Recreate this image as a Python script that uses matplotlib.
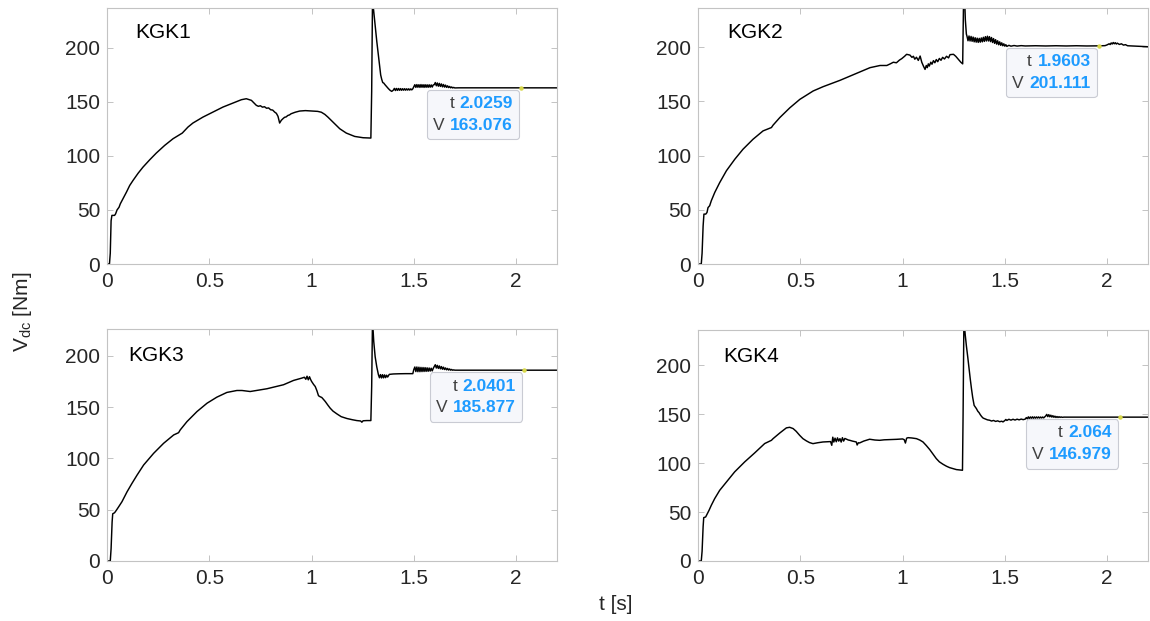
import matplotlib
matplotlib.use("Agg")
import matplotlib.pyplot as plt
from matplotlib.offsetbox import TextArea, HPacker, VPacker, AnnotationBbox

plt.rcParams['font.family'] = ['Liberation Sans', 'DejaVu Sans']
plt.rcParams['mathtext.fontset'] = 'custom'
plt.rcParams['mathtext.rm'] = 'Liberation Sans'
plt.rcParams['mathtext.it'] = 'Liberation Sans:italic'

# ---------------- data ----------------
x_ticks = [0, 0.5, 1, 1.5, 2]
x_tick_labels = ['0', '0.5', '1', '1.5', '2']
y_ticks = [0, 50, 100, 150, 200]

t_kgk1 = [0, 0.012, 0.016, 0.020, 0.024, 0.037, 0.042, 0.049, 0.059, 0.065, 0.078, 0.095,
          0.111, 0.127, 0.152, 0.176, 0.209, 0.241, 0.282, 0.323, 0.355, 0.368, 0.396, 0.42,
          0.469, 0.518, 0.567, 0.616, 0.657, 0.681, 0.706, 0.73, 0.74, 0.75, 0.76, 0.77, 0.78,
          0.79, 0.80, 0.81, 0.82, 0.828, 0.836, 0.844, 0.852, 0.86, 0.868, 0.876, 0.884, 0.892,
          0.9, 0.92, 0.942, 0.97, 1.007, 1.03, 1.048, 1.065, 1.08, 1.105, 1.138, 1.17, 1.211,
          1.252, 1.29, 1.294, 1.298, 1.305, 1.311, 1.319, 1.327, 1.333, 1.338, 1.343, 1.348,
          1.353, 1.359, 1.366, 1.376, 1.384, 1.392,
          1.400, 1.405, 1.410, 1.415, 1.420, 1.425, 1.430, 1.435, 1.440, 1.445, 1.450, 1.455,
          1.460, 1.465, 1.470, 1.475, 1.480, 1.485, 1.490, 1.495,
          1.500, 1.505, 1.510, 1.515, 1.520, 1.525, 1.530, 1.535, 1.540, 1.545, 1.550, 1.555,
          1.560, 1.565, 1.570, 1.575, 1.580, 1.585, 1.590, 1.595,
          1.600, 1.605, 1.610, 1.615, 1.620, 1.625, 1.630, 1.635, 1.640, 1.645, 1.650, 1.655,
          1.660, 1.665, 1.670, 1.675, 1.680, 1.685, 1.690, 1.695, 1.700, 1.720, 2.0259, 2.2]
v_kgk1 = [0, 0, 10, 40, 45, 45, 46.4, 50, 52.6, 55.7, 60.3, 66.5,
          72.7, 77.3, 84, 89.7, 96.5, 102.7, 109.8, 116, 119.7, 121.2, 126.8, 130.5,
          136, 140.7, 145.3, 149, 152.1, 153, 151.5, 146.9, 146.0, 146.5, 145.2, 145.6, 144.2,
          144.5, 142.8, 142.5, 140.6, 139.5, 136.7, 130.5, 133, 134.5, 135.8, 136.2, 137.5, 138,
          139.1, 140.5, 141.6, 142, 141.6, 141.3, 140.5, 138.5, 136, 131.4, 125.2, 121.2, 118.1,
          116.9, 116.6, 160, 245, 232, 221, 206, 193, 183, 175, 171, 168,
          167.5, 166, 164.5, 162.3, 160.8, 159.8,
          161.0, 162.6, 160.6, 162.5, 160.7, 162.5, 160.8, 162.4, 160.8, 162.3, 160.9, 162.3,
          160.9, 162.2, 161.0, 162.2, 161.0, 162.1, 161.2, 162.2,
          164.0, 166.0, 163.5, 166.1, 163.6, 166.0, 163.5, 166.1, 163.6, 166.0, 163.5, 166.0,
          163.6, 165.9, 163.6, 165.9, 163.7, 165.8, 163.8, 165.8,
          166.0, 168.0, 165.0, 167.6, 164.6, 167.2, 164.4, 166.7, 164.0, 166.2, 163.8, 165.6,
          163.5, 165.0, 163.3, 164.4, 163.1, 163.9, 163.0, 163.5, 163.0, 163.1, 163.076, 163.076]

t_kgk2 = [0, 0.016, 0.020, 0.025, 0.029, 0.038, 0.044, 0.049, 0.057, 0.065, 0.082, 0.106,
          0.139, 0.18, 0.22, 0.269, 0.318, 0.359, 0.367, 0.4, 0.449, 0.498, 0.563, 0.612,
          0.694, 0.775, 0.841, 0.89, 0.923, 0.94, 0.955, 0.97, 0.985, 0.996, 1.01, 1.02, 1.036,
          1.046, 1.053, 1.06, 1.068, 1.077, 1.086, 1.094, 1.102, 1.11, 1.116, 1.121, 1.126,
          1.131, 1.138, 1.144, 1.151, 1.158, 1.165, 1.172, 1.18, 1.188, 1.196, 1.205, 1.215,
          1.225, 1.232, 1.249, 1.26, 1.273, 1.285, 1.294, 1.298, 1.303, 1.307, 1.312,
          1.315, 1.320, 1.325, 1.330, 1.335, 1.340, 1.345, 1.350, 1.355, 1.360, 1.365, 1.370,
          1.375, 1.380, 1.385, 1.390, 1.395, 1.400, 1.405, 1.410, 1.415, 1.420, 1.425, 1.430,
          1.435, 1.440, 1.445, 1.450, 1.455, 1.460, 1.465, 1.470, 1.475, 1.480, 1.485, 1.490,
          1.495, 1.500, 1.505, 1.510, 1.52, 1.53, 1.545, 1.56, 1.58, 1.60, 1.65, 1.70, 1.75,
          1.80, 1.85, 1.90, 1.9603, 1.99, 2.00, 2.01, 2.015, 2.02, 2.025, 2.03, 2.035, 2.04,
          2.045, 2.05, 2.06, 2.07, 2.08, 2.09, 2.10, 2.12, 2.16, 2.2]
v_kgk2 = [0, 0, 10, 35, 46, 46, 47.5, 52, 53.7, 58.3, 66, 75,
          86, 96.6, 105.8, 115, 122.7, 125.8, 128, 135, 144, 151.8, 159.5, 163.5,
          169.3, 175.8, 181, 183, 183, 184.5, 186, 185.5, 188, 189.3, 191.5, 193.3, 192.6,
          190.5, 191.5, 188.8, 190.6, 187.7, 191.7, 186, 182.5, 179.4, 183, 181, 184.5,
          182.5, 186, 184.2, 187.5, 185.5, 188.5, 186.5, 189.5, 187.8, 190.5, 189, 191.5,
          190, 193, 193.3, 191.5, 188.7, 186, 184.5, 240, 248, 225, 212,
          210.0, 205.8, 210.2, 205.6, 209.8, 205.3, 209.2, 204.8, 208.6, 204.5, 208.2, 204.3,
          208.0, 204.5, 208.4, 204.8, 209.0, 205.2, 209.6, 205.6, 210.0, 205.6, 209.6, 205.0,
          208.8, 204.2, 207.8, 203.4, 206.8, 202.7, 205.8, 202.1, 204.8, 201.6, 203.9, 201.2,
          203.0, 200.8, 202.2, 200.6, 201.6, 200.8, 201.4, 200.9, 201.3, 201.0, 201.2, 201.0, 201.2,
          201.0, 201.2, 201.0, 201.111, 201.3, 202.0, 203.0, 202.3, 203.8, 202.8, 204.2, 203.0, 204.0,
          202.8, 203.6, 202.4, 203.0, 201.8, 202.2, 201.2, 201.0, 200.6, 200.3]

t_kgk3 = [0, 0.016, 0.020, 0.025, 0.028, 0.037, 0.046, 0.057, 0.073, 0.098, 0.122, 0.147,
          0.179, 0.228, 0.277, 0.326, 0.35, 0.358, 0.391, 0.44, 0.489, 0.537, 0.586, 0.635,
          0.66, 0.7, 0.782, 0.863, 0.912, 0.953, 0.965, 0.972, 0.978, 0.984, 0.99, 0.995, 1.0,
          1.01, 1.018, 1.026, 1.034, 1.042, 1.05, 1.058, 1.067, 1.08, 1.091, 1.105, 1.124,
          1.145, 1.173, 1.2, 1.221, 1.24, 1.246, 1.252, 1.27, 1.29, 1.294, 1.298, 1.304, 1.311,
          1.319, 1.327, 1.332, 1.337, 1.342, 1.347, 1.352, 1.357, 1.362, 1.367, 1.372, 1.38,
          1.40, 1.43, 1.46, 1.495,
          1.500, 1.505, 1.510, 1.515, 1.520, 1.525, 1.530, 1.535, 1.540, 1.545, 1.550, 1.555,
          1.560, 1.565, 1.570, 1.575, 1.580, 1.585, 1.590, 1.595,
          1.600, 1.605, 1.610, 1.615, 1.620, 1.625, 1.630, 1.635, 1.640, 1.645, 1.650, 1.655,
          1.660, 1.665, 1.670, 1.675, 1.680, 1.685, 1.690, 1.695, 1.700, 1.72, 2.0401, 2.2]
v_kgk3 = [0, 0, 12, 38, 46, 47, 49.5, 52.8, 57.7, 67.4, 75.6, 83.7,
          93.5, 104.9, 114.7, 122.8, 125, 127.7, 135.8, 145.6, 153.7, 159.6, 164.2, 166.1,
          166.1, 165.1, 167.8, 171.7, 175.9, 178.2, 179.0, 177.0, 180.0, 176.5, 179.5, 177.0, 175,
          172, 170, 166, 161, 160, 159.3, 157.5, 155.4, 151.8, 148.9, 146, 143.3,
          140.6, 138.8, 137.6, 136.8, 136.4, 135.2, 136.6, 136.8, 136.8, 170, 235, 214, 199,
          189, 181.4, 178.5, 181.6, 178.3, 181.5, 178.4, 181.3, 178.6, 181.0, 179.2, 181.8,
          182.2, 182.4, 182.5, 182.5,
          186.5, 189.0, 184.5, 189.0, 184.4, 188.8, 184.4, 188.6, 184.5, 188.5, 184.6, 188.4,
          184.7, 188.2, 184.8, 188.0, 185.0, 187.8, 185.2, 187.6,
          189.5, 191.2, 188.0, 190.6, 187.6, 190.0, 187.2, 189.4, 186.8, 188.8, 186.5, 188.1,
          186.2, 187.6, 186.0, 187.1, 185.9, 186.6, 185.8, 186.2, 185.9, 185.88, 185.877, 185.877]

t_kgk4 = [0, 0.016, 0.020, 0.025, 0.028, 0.0375, 0.044, 0.054, 0.065, 0.0815, 0.106, 0.139,
          0.179, 0.228, 0.277, 0.326, 0.359, 0.367, 0.4, 0.432, 0.448, 0.465, 0.48, 0.497,
          0.513, 0.53, 0.545, 0.562, 0.585, 0.611, 0.635, 0.648, 0.654, 0.659, 0.664, 0.67,
          0.676, 0.682, 0.688, 0.694, 0.700, 0.706, 0.712, 0.718, 0.725, 0.735, 0.742, 0.755,
          0.774, 0.778, 0.784, 0.79, 0.81, 0.839, 0.865, 0.888, 0.91, 0.937, 0.97, 1.0, 1.008,
          1.014, 1.02, 1.027, 1.045, 1.068, 1.085, 1.1, 1.116, 1.133, 1.15, 1.165, 1.18, 1.198,
          1.215, 1.23, 1.263, 1.293, 1.296, 1.30, 1.306, 1.312, 1.319, 1.325, 1.331, 1.337,
          1.343, 1.35, 1.355, 1.361, 1.368, 1.374, 1.38, 1.387, 1.394, 1.405, 1.415, 1.426,
          1.435, 1.445, 1.455, 1.465, 1.475, 1.485, 1.491, 1.50, 1.505, 1.51, 1.52, 1.53, 1.54,
          1.55, 1.56, 1.57, 1.58, 1.59, 1.60,
          1.605, 1.61, 1.615, 1.62, 1.625, 1.63, 1.635, 1.64, 1.645, 1.65, 1.655, 1.66, 1.665,
          1.67, 1.675, 1.68, 1.685, 1.69, 1.695, 1.70, 1.705, 1.71, 1.715, 1.72, 1.725, 1.73,
          1.735, 1.74, 1.745, 1.75, 1.755, 1.76, 1.765, 1.77, 1.775, 1.78, 1.79, 1.80, 2.064, 2.2]
v_kgk4 = [0, 0, 10, 35, 44.3, 45, 47.7, 51.8, 56.9, 63.7, 72.2, 80.7,
          91, 101.2, 110.4, 120, 123.3, 125, 130.8, 136, 136.6, 135.3, 132.5, 128.4,
          125, 122.7, 121, 119.9, 120.8, 121.6, 121.8, 122, 118.2, 126.5, 121.5, 125.5,
          121.8, 125.8, 122.5, 125, 121.5, 126, 122.5, 125.2, 124.5, 123.6, 123.3, 122.5,
          121.6, 118.5, 120.8, 120.6, 122.5, 124.4, 123.6, 123.3, 123.8, 124, 124.3, 124.7, 124,
          120.5, 125.5, 126, 125.7, 125, 123.5, 121.6, 118, 113.8, 109, 104.6, 101.3, 98.8,
          96.8, 95.4, 93.4, 92.7, 150, 248, 232, 220, 208, 196.6, 186, 176,
          167, 159, 157.5, 155.7, 153, 151.6, 149.5, 147.5, 146, 145, 144.2, 143.8,
          143.0, 143.6, 142.6, 143.2, 142.3, 142.8, 142.1, 143.5, 144.6, 143.6, 144.8, 143.9, 144.8,
          144.0, 144.9, 144.2, 145.0, 144.4, 145.0,
          146.5, 145.2, 147.3, 145.6, 147.2, 145.8, 147.3, 145.8, 147.2, 145.9, 147.2, 146.0, 147.2,
          146.0, 147.1, 146.1, 147.1, 146.2, 147.2, 148.2, 149.8, 147.5, 149.5, 147.3, 149.0, 147.0,
          148.5, 146.8, 148.0, 146.6, 147.6, 146.6, 147.4, 146.7, 147.2, 146.8, 147.0, 146.98, 146.979, 146.979]

names = ['KGK1', 'KGK2', 'KGK3', 'KGK4']
series_t = [t_kgk1, t_kgk2, t_kgk3, t_kgk4]
series_v = [v_kgk1, v_kgk2, v_kgk3, v_kgk4]
tip_t = [2.0259, 1.9603, 2.0401, 2.064]
tip_v = [163.076, 201.111, 185.877, 146.979]
y_max = [237, 236, 226, 236]

# ---------------- layout ----------------
W, H = 1150, 621
fig = plt.figure(figsize=(W / 100, H / 100), dpi=100)
fig.patch.set_facecolor('white')

# (left, bottom, right, top) of each panel in pixels from the top-left corner
boxes_px = [(107, 264, 557, 8), (698, 264, 1148, 8),
            (107, 561, 557, 329), (698, 561, 1148, 330)]
name_pos = [(0.062, 0.906), (0.064, 0.906), (0.047, 0.884), (0.056, 0.887)]

frame_col = '#c3c3c3'
text_col = '#262626'
tip_blue = '#1e9bff'

for i in range(4):
    l, b, r, tp = boxes_px[i]
    ax = fig.add_axes([l / W, (H - b) / H, (r - l) / W, (b - tp) / H])
    ax.plot(series_t[i], series_v[i], color='black', lw=1.05, solid_joinstyle='round')
    ax.set_xlim(0, 2.2)
    ax.set_ylim(0, y_max[i])
    ax.set_xticks(x_ticks)
    ax.set_xticklabels(x_tick_labels)
    ax.set_yticks(y_ticks)
    for s in ax.spines.values():
        s.set_color(frame_col)
        s.set_linewidth(0.8)
    ax.tick_params(direction='in', top=True, right=True, length=4, width=0.7,
                   color=frame_col, labelcolor=text_col, labelsize=15)
    ax.tick_params(axis='x', pad=6)
    ax.tick_params(axis='y', pad=5)
    ax.text(name_pos[i][0], name_pos[i][1], names[i], transform=ax.transAxes,
            fontsize=15, color='black', ha='left', va='center')

    # data tip
    lab_props = dict(color='#404040', fontsize=12.5)
    val_props = dict(color=tip_blue, fontsize=12.5, fontweight='bold')
    row_t = HPacker(children=[TextArea('t', textprops=lab_props),
                              TextArea(str(tip_t[i]), textprops=val_props)],
                    align='baseline', pad=0, sep=4)
    row_v = HPacker(children=[TextArea('V', textprops=lab_props),
                              TextArea(str(tip_v[i]), textprops=val_props)],
                    align='baseline', pad=0, sep=4)
    stack = VPacker(children=[row_t, row_v], align='right', pad=0, sep=5)
    ab = AnnotationBbox(stack, (tip_t[i], tip_v[i]), xycoords='data',
                        xybox=(-6, -6), boxcoords='offset points',
                        box_alignment=(1, 1), frameon=True, pad=0.45,
                        bboxprops=dict(boxstyle='round,pad=0.45,rounding_size=0.25',
                                       facecolor='#f6f7fb', edgecolor='#c9cbd3', lw=0.8))
    ax.add_artist(ab)
    ax.plot([tip_t[i]], [tip_v[i]], 'o', ms=2.2, color='#d8d84a', zorder=6)

fig.text(23 / W, 1 - 312 / H, r'V$_{\mathrm{dc}}$ [Nm]', rotation=90, fontsize=15,
         color=text_col, ha='center', va='center')
fig.text(616 / W, 1 - 605 / H, 't [s]', fontsize=15, color=text_col,
         ha='center', va='center')

fig.savefig('out.png', dpi=100)
